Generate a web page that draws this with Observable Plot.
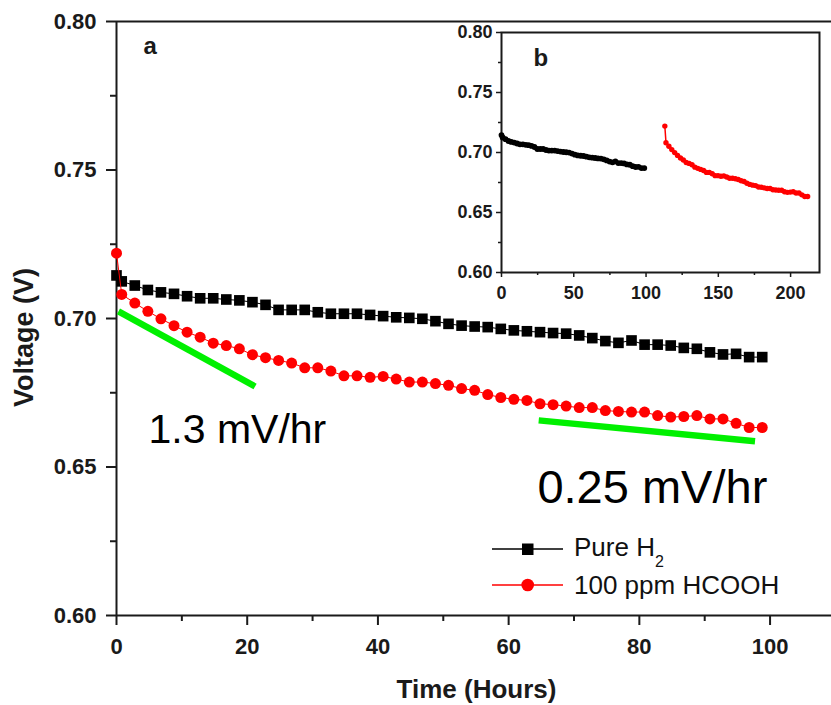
<!DOCTYPE html>
<html><head><meta charset="utf-8">
<script src="https://cdn.jsdelivr.net/npm/d3@7"></script>
<script src="https://cdn.jsdelivr.net/npm/@observablehq/plot@0.6"></script>
<style>
body{margin:0;background:#fff;}
#wrap{position:relative;width:831px;height:705px;overflow:hidden;font-family:"Liberation Sans",Arial,sans-serif;}
#wrap svg{position:absolute;}
</style></head><body><div id="wrap"></div>
<script>
// ---- data ----
const hours = [0, 0.8, 2.8, 4.8, 6.8, 8.8, 10.8, 12.8, 14.8, 16.8, 18.8, 20.8, 22.8, 24.8, 26.8, 28.8, 30.8, 32.8, 34.8, 36.8, 38.8, 40.8, 42.8, 44.8, 46.8, 48.8, 50.8, 52.8, 54.8, 56.8, 58.8, 60.8, 62.8, 64.8, 66.8, 68.8, 70.8, 72.8, 74.8, 76.8, 78.8, 80.8, 82.8, 84.8, 86.8, 88.8, 90.8, 92.8, 94.8, 96.8, 98.8];
const pureH2 = [0.7145, 0.7125, 0.7111, 0.7096, 0.7088, 0.7083, 0.7075, 0.7068, 0.7068, 0.7064, 0.7061, 0.7055, 0.7046, 0.7029, 0.7029, 0.7029, 0.7021, 0.7016, 0.7016, 0.7016, 0.7012, 0.7008, 0.7004, 0.7002, 0.6999, 0.6991, 0.6982, 0.6976, 0.6973, 0.6971, 0.6965, 0.6960, 0.6957, 0.6954, 0.6951, 0.6949, 0.6943, 0.6934, 0.6924, 0.6918, 0.6926, 0.6912, 0.6912, 0.6909, 0.6901, 0.6898, 0.6886, 0.6879, 0.6881, 0.6870, 0.6870];
const hcooh = [0.7220, 0.7081, 0.7052, 0.7024, 0.6999, 0.6976, 0.6954, 0.6937, 0.6917, 0.6909, 0.6898, 0.6878, 0.6868, 0.6859, 0.6850, 0.6834, 0.6834, 0.6823, 0.6807, 0.6807, 0.6802, 0.6805, 0.6796, 0.6786, 0.6786, 0.6781, 0.6775, 0.6764, 0.6758, 0.6744, 0.6734, 0.6728, 0.6724, 0.6713, 0.6710, 0.6705, 0.6700, 0.6700, 0.6690, 0.6687, 0.6685, 0.6685, 0.6673, 0.6668, 0.6670, 0.6673, 0.6662, 0.6662, 0.6647, 0.6633, 0.6633];
const fitEarlyHours = [0.3, 21.2];
const fitEarlyVolts = [0.7024, 0.6771];
const fitLateHours = [64.6, 97.7];
const fitLateVolts = [0.6657, 0.6587];
const slopeLabels = ["1.3 mV/hr", "0.25 mV/hr"];
const slopeLabelHours = [4.9, 64.4];
const slopeLabelVolts = [0.6582, 0.6380];
const xTicks = [0, 20, 40, 60, 80, 100];
const xMinor = [10, 30, 50, 70, 90];
const yTicks = [0.60, 0.65, 0.70, 0.75, 0.80];
const yMinor = [0.625, 0.675, 0.725, 0.775];
const insetXTicks = [0, 50, 100, 150, 200];
const insetXMinor = [25, 75, 125, 175];
const insetRunStart = 113; // hours at which the HCOOH run begins in panel b
const seriesNames = ["Pure H", "100 ppm HCOOH"];
const panelLabels = ["a", "b"];

// ---- build ----
const rows = hours.map((h, i) => ({h, a: pureH2[i], b: hcooh[i]}));
const insetRows = hours.map((h, i) => ({h, hb: h + insetRunStart, a: pureH2[i], b: hcooh[i]}));
const fit1 = fitEarlyHours.map((h, i) => ({h, v: fitEarlyVolts[i]}));
const fit2 = fitLateHours.map((h, i) => ({h, v: fitLateVolts[i]}));
const lab1 = [{t: slopeLabels[0], h: slopeLabelHours[0], v: slopeLabelVolts[0]}];
const lab2 = [{t: slopeLabels[1], h: slopeLabelHours[1], v: slopeLabelVolts[1]}];
const FONT = '"Liberation Sans", Arial, sans-serif';
const INK = "#1a1a1a";
const f2 = d3.format(".2f");
const blank = () => "";

const main = Plot.plot({
  width: 831, height: 705,
  marginLeft: 116, marginRight: 0, marginTop: 21, marginBottom: 90,
  x: {domain: [0, 109.4]},
  y: {domain: [0.6, 0.8]},
  style: {fontFamily: FONT, color: INK, background: "transparent", overflow: "visible"},
  marks: [
    Plot.axisY({ticks: yTicks, tickSize: 10, tickPadding: 10, tickFormat: f2, fontSize: 22, fontWeight: "bold", strokeWidth: 2, label: null}),
    Plot.axisY({ticks: yMinor, tickSize: 6, tickFormat: blank, strokeWidth: 2, label: null}),
    Plot.axisX({ticks: xTicks, tickSize: 10, tickPadding: 13, fontSize: 22, fontWeight: "bold", strokeWidth: 2, label: null}),
    Plot.axisX({ticks: xMinor, tickSize: 6, tickFormat: blank, strokeWidth: 2, label: null}),
    Plot.ruleX([0], {stroke: INK, strokeWidth: 2}),
    Plot.ruleY([0.6, 0.8], {stroke: INK, strokeWidth: 2}),
    Plot.line(rows, {x: "h", y: "a", stroke: "black", strokeWidth: 1}),
    Plot.dot(rows, {x: "h", y: "a", symbol: "square", r: 6, fill: "black"}),
    Plot.line(rows, {x: "h", y: "b", stroke: "#ff0000", strokeWidth: 1}),
    Plot.dot(rows, {x: "h", y: "b", r: 5.5, fill: "#ff0000"}),
    Plot.line(fit1, {x: "h", y: "v", stroke: "#00f000", strokeWidth: 6.5, strokeLinecap: "butt"}),
    Plot.line(fit2, {x: "h", y: "v", stroke: "#00f000", strokeWidth: 6.5, strokeLinecap: "butt"}),
    Plot.text(lab1, {x: "h", y: "v", text: "t", textAnchor: "start", lineAnchor: "bottom", fontSize: 41, fill: "#000"}),
    Plot.text(lab2, {x: "h", y: "v", text: "t", textAnchor: "start", lineAnchor: "bottom", fontSize: 47, fill: "#000"}),
    Plot.text([panelLabels[0]], {frameAnchor: "top-left", textAnchor: "start", lineAnchor: "bottom", dx: 27, dy: 32, fontSize: 24, fontWeight: "bold", fill: INK})
  ]
});
main.style.left = "0px"; main.style.top = "0px";
document.getElementById("wrap").appendChild(main);

// overlay: axis titles and legend
const ov = d3.create("svg").attr("width", 831).attr("height", 705)
  .style("left", "0px").style("top", "0px").style("font-family", FONT);
ov.append("text").attr("transform", "translate(33,337.5) rotate(-90)").attr("text-anchor", "middle")
  .attr("font-size", 27).attr("font-weight", "bold").attr("fill", INK).text("Voltage (V)");
ov.append("text").attr("x", 476.5).attr("y", 698).attr("text-anchor", "middle")
  .attr("font-size", 26).attr("font-weight", "bold").attr("fill", INK).text("Time (Hours)");
// legend
const lg = ov.append("g");
lg.append("line").attr("x1", 492).attr("x2", 563).attr("y1", 549).attr("y2", 549).attr("stroke", "black").attr("stroke-width", 1.3);
lg.append("rect").attr("x", 522).attr("y", 543.5).attr("width", 11.5).attr("height", 11.5).attr("fill", "black");
const t1 = lg.append("text").attr("x", 574).attr("y", 556).attr("font-size", 26).attr("fill", "#111").text(seriesNames[0]);
t1.append("tspan").attr("font-size", 16).attr("dy", 11).text("2");
lg.append("line").attr("x1", 492).attr("x2", 563).attr("y1", 585).attr("y2", 585).attr("stroke", "#ff0000").attr("stroke-width", 1.3);
lg.append("circle").attr("cx", 527.7).attr("cy", 585).attr("r", 6.3).attr("fill", "#ff0000");
lg.append("text").attr("x", 574).attr("y", 594).attr("font-size", 26).attr("fill", "#111").text(seriesNames[1]);
document.getElementById("wrap").appendChild(ov.node());

// inset (panel b)
const inset = Plot.plot({
  width: 391, height: 285,
  marginLeft: 61, marginRight: 12, marginTop: 12, marginBottom: 33,
  x: {domain: [0, 220]},
  y: {domain: [0.6, 0.8]},
  style: {fontFamily: FONT, color: INK, background: "transparent", overflow: "visible"},
  marks: [
    Plot.frame({stroke: INK, strokeWidth: 2}),
    Plot.axisY({ticks: yTicks, tickSize: 5, tickPadding: 4, tickFormat: f2, fontSize: 18, fontWeight: "bold", strokeWidth: 1.5, label: null}),
    Plot.axisY({ticks: yMinor, tickSize: 3, tickFormat: blank, strokeWidth: 1.5, label: null}),
    Plot.axisX({ticks: insetXTicks, tickSize: 5, tickPadding: 9, fontSize: 18, fontWeight: "bold", strokeWidth: 1.5, label: null}),
    Plot.axisX({ticks: insetXMinor, tickSize: 3, tickFormat: blank, strokeWidth: 1.5, label: null}),
    Plot.line(insetRows, {x: "h", y: "a", stroke: "black", strokeWidth: 2}),
    Plot.dot(insetRows, {x: "h", y: "a", r: 2.9, fill: "black"}),
    Plot.line(insetRows, {x: "hb", y: "b", stroke: "#ff0000", strokeWidth: 1.5}),
    Plot.dot(insetRows, {x: "hb", y: "b", r: 2.7, fill: "#ff0000"}),
    Plot.text([panelLabels[1]], {frameAnchor: "top-left", textAnchor: "start", lineAnchor: "bottom", dx: 32, dy: 33, fontSize: 24, fontWeight: "bold", fill: INK})
  ]
});
inset.style.left = "440px"; inset.style.top = "20px";
document.getElementById("wrap").appendChild(inset);
</script>
</body></html>
